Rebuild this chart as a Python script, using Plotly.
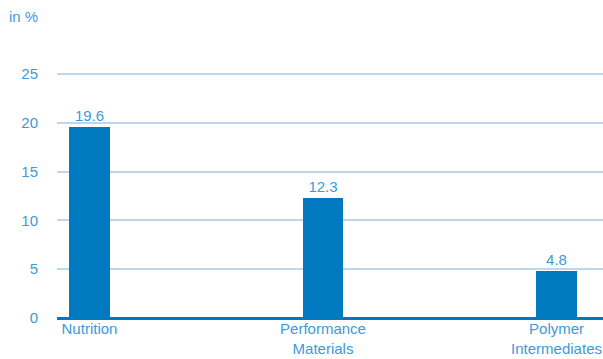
import plotly.graph_objects as go

categories = ["Nutrition", "Performance<br>Materials", "Polymer<br>Intermediates"]
values = [19.6, 12.3, 4.8]
value_labels = ["19.6", "12.3", "4.8"]
y_ticks = [0, 5, 10, 15, 20, 25]

BAR = "#0079C1"
TXT = "#3D9AD9"
GRID = "#BDD8EE"
FONT = "Liberation Sans, Arial, Helvetica, sans-serif"

YMAX = 25.2
PLOT_H = 318 - 72

fig = go.Figure(go.Bar(
    x=[0, 1, 2], y=values, width=0.175, marker_color=BAR, marker_line_width=0,
    text=value_labels, textposition="outside", cliponaxis=False,
    textfont=dict(color=TXT, size=15, family=FONT),
))

fig.update_layout(
    width=603, height=359,
    margin=dict(l=57, r=0, t=72, b=41),
    paper_bgcolor="white", plot_bgcolor="white",
    showlegend=False,
    font=dict(family=FONT, color=TXT, size=15),
    bargap=0,
    xaxis=dict(
        tickmode="array", tickvals=[0, 1, 2], ticktext=categories,
        range=[-0.139, 2.199], showgrid=False, zeroline=False,
        showline=False, ticks="", 
        tickfont=dict(color=TXT, size=15, family=FONT),
    ),
    yaxis=dict(
        range=[0, YMAX], tickvals=y_ticks, showgrid=True, gridcolor=GRID, gridwidth=2,
        zeroline=True, zerolinecolor=BAR, zerolinewidth=3,
        ticks="outside", ticklen=15, tickcolor="rgba(0,0,0,0)",
        tickfont=dict(color=TXT, size=15, family=FONT),
        showline=False,
    ),
    annotations=[dict(
        text="in %", xref="paper", yref="paper", x=-50/546, y=1 + (72 - 17) / PLOT_H,
        xanchor="left", yanchor="middle", showarrow=False,
        font=dict(color=TXT, size=15, family=FONT),
    )],
)

fig.write_html("out.html")
